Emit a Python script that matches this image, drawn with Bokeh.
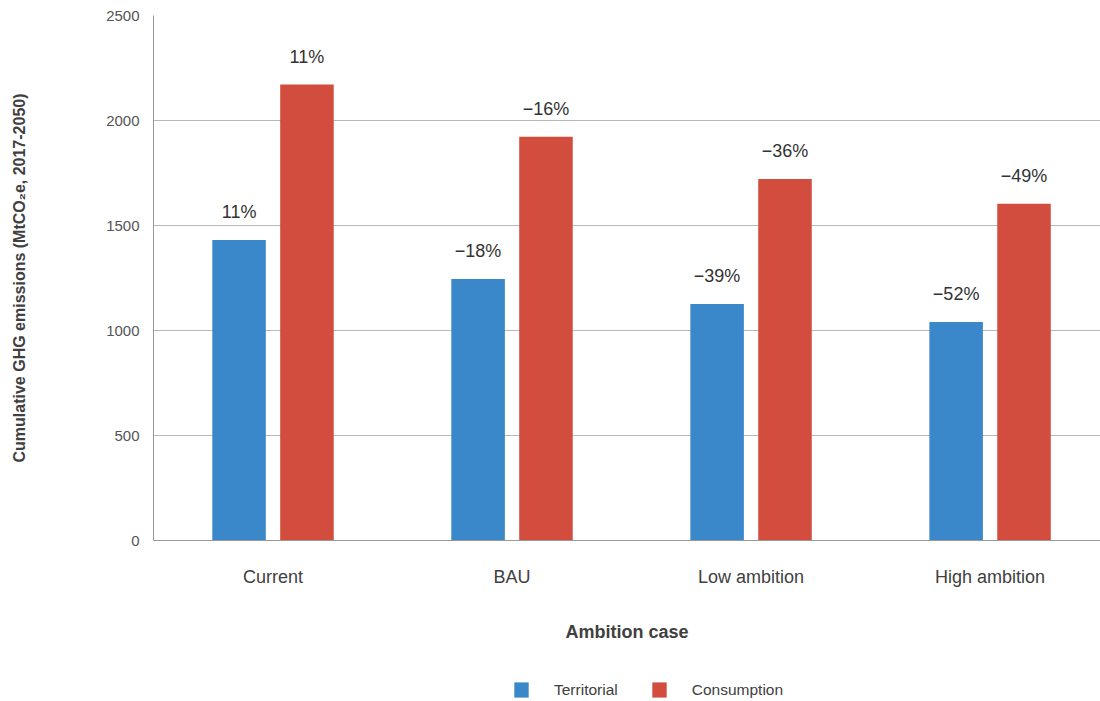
from bokeh.plotting import figure
from bokeh.layouts import column
from bokeh.models import Range1d, FixedTicker, Legend, LegendItem
from bokeh.core.properties import value
from bokeh.embed import file_html
from bokeh.resources import INLINE

categories = ["Current", "BAU", "Low ambition", "High ambition"]
territorial = [1431, 1245, 1126, 1040]
consumption = [2171, 1923, 1722, 1603]
territorial_change = ["11%", "\u221218%", "\u221239%", "\u221252%"]
consumption_change = ["11%", "\u221216%", "\u221236%", "\u221249%"]
series_names = ["Territorial", "Consumption"]
y_ticks = [0, 500, 1000, 1500, 2000, 2500]

FONT = "Liberation Sans"
BLUE = "#3a88c9"
RED = "#d34d3e"
TXT = "#404040"

idx = [i + 0.5 for i in range(len(categories))]
terr_x = [c - 0.142 for c in idx]
cons_x = [c + 0.142 for c in idx]

p = figure(width=1100, height=650, x_range=Range1d(0, 3.962), y_range=Range1d(0, 2500),
           output_backend="svg", toolbar_location=None,
           min_border_left=153, min_border_right=0, min_border_top=15, min_border_bottom=110)
p.outline_line_color = None
p.background_fill_color = "white"

r1 = p.vbar(x=terr_x, top=territorial, width=0.224, fill_color=BLUE, line_color=None)
r2 = p.vbar(x=cons_x, top=consumption, width=0.224, fill_color=RED, line_color=None)

for xs, ys, labels in ((terr_x, territorial, territorial_change), (cons_x, consumption, consumption_change)):
    p.text(x=xs, y=ys, text=labels, y_offset=-28, text_align="center", text_baseline="middle",
           text_font=value(FONT), text_font_size="18px", text_color="#333333")

# grid
p.xgrid.visible = False
p.ygrid.ticker = FixedTicker(ticks=y_ticks)
p.ygrid.grid_line_color = "#b8b8b8"
p.ygrid.grid_line_width = 1

# y axis
p.yaxis.ticker = FixedTicker(ticks=y_ticks)
p.yaxis.axis_label = "Cumulative GHG emissions (MtCO\u2082e, 2017-2050)"
p.yaxis.axis_label_text_font = FONT
p.yaxis.axis_label_text_font_style = "bold"
p.yaxis.axis_label_text_font_size = "16px"
p.yaxis.axis_label_text_color = TXT
p.yaxis.axis_label_standoff = 75
p.yaxis.major_label_text_font = FONT
p.yaxis.major_label_text_font_size = "15px"
p.yaxis.major_label_text_color = "#555555"
p.yaxis.major_label_standoff = 14
p.yaxis.major_tick_out = 0
p.yaxis.major_tick_in = 0
p.yaxis.minor_tick_out = 0
p.yaxis.minor_tick_in = 0
p.yaxis.axis_line_color = "#999999"

# x axis
p.xaxis.ticker = FixedTicker(ticks=idx)
p.xaxis.major_label_overrides = {c: name for c, name in zip(idx, categories)}
p.xaxis.axis_label = "Ambition case"
p.xaxis.axis_label_text_font = FONT
p.xaxis.axis_label_text_font_style = "bold"
p.xaxis.axis_label_text_font_size = "18px"
p.xaxis.axis_label_text_color = TXT
p.xaxis.axis_label_standoff = 32
p.xaxis.major_label_text_font = FONT
p.xaxis.major_label_text_font_size = "18px"
p.xaxis.major_label_text_color = TXT
p.xaxis.major_label_standoff = 26
p.xaxis.major_tick_out = 0
p.xaxis.major_tick_in = 0
p.xaxis.minor_tick_out = 0
p.xaxis.minor_tick_in = 0
p.xaxis.axis_line_color = "#999999"

# legend strip below the chart (its frame is aligned with the chart frame)
lf = figure(width=1100, height=51, x_range=Range1d(0, 3.962), y_range=Range1d(0, 2500),
            output_backend="svg", toolbar_location=None,
            min_border_left=153, min_border_right=0, min_border_top=0, min_border_bottom=0)
lf.outline_line_color = None
lf.axis.visible = False
lf.grid.visible = False
lr1 = lf.vbar(x=terr_x, top=territorial, width=0.224, fill_color=BLUE, line_color=None, visible=False)
lr2 = lf.vbar(x=cons_x, top=consumption, width=0.224, fill_color=RED, line_color=None, visible=False)
legend = Legend(items=[LegendItem(label=series_names[0], renderers=[lr1]),
                       LegendItem(label=series_names[1], renderers=[lr2])],
                orientation="horizontal", location=(359, 2),
                glyph_width=18, glyph_height=19, label_standoff=24, spacing=32,
                padding=0, margin=0, border_line_color=None, background_fill_alpha=0,
                inactive_fill_alpha=0,
                label_text_font=FONT, label_text_font_size="15.5px", label_text_color=TXT,
                label_height=19)
lf.add_layout(legend, "center")

layout = column(p, lf, spacing=0)
open("out.html", "w").write(file_html(layout, INLINE))
